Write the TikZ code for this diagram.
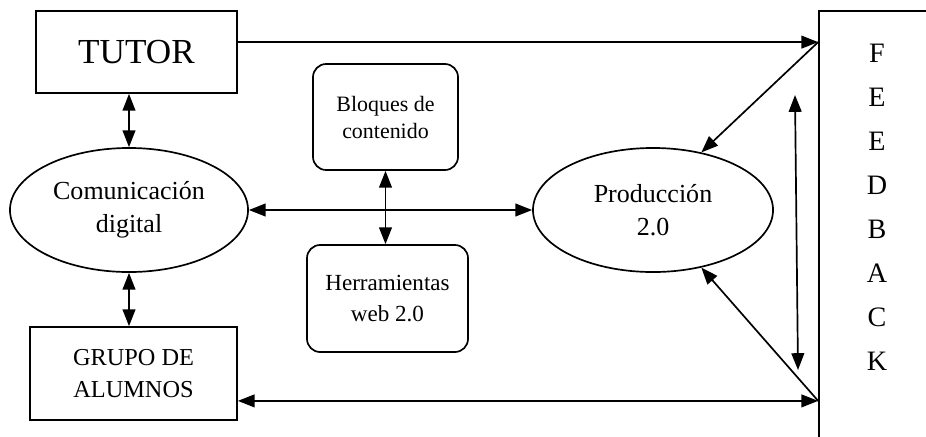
\documentclass[tikz,border=0pt]{standalone}
\usepackage{fontspec}
\setmainfont{Liberation Serif}
\usetikzlibrary{shapes.geometric,arrows.meta}

\tikzset{
  box/.style={draw, line width=1.2pt, inner sep=0pt, align=center},
  rbox/.style={box, rounded corners=0.33cm},
  oval/.style={ellipse, draw, line width=1.2pt, inner sep=0pt, align=center},
  link/.style={line width=1.2pt, -{Triangle[length=4.2mm,width=3.2mm]}},
  dlink/.style={line width=1.2pt, {Triangle[length=4.2mm,width=3.2mm]}-{Triangle[length=4.2mm,width=3.2mm]}},
}

\begin{document}
\begin{tikzpicture}[x=0.025cm,y=-0.025cm]
\useasboundingbox (0,0) rectangle (926,436);
% boxes
\node [box, minimum width=5.025cm, minimum height=2.05cm,
       font=\fontsize{25}{25}\selectfont] (tutor) at (136.5,52) {TUTOR};
\node [oval, minimum width=5.95cm, minimum height=3.1cm,
       font=\fontsize{18.5}{23.5}\selectfont] (com) at (129,210) {Comunicación\\digital};
\node [box, minimum width=5.175cm, minimum height=2.325cm,
       font=\fontsize{17.3}{22.8}\selectfont] (grupo) at (133.5,373.5) {GRUPO DE\\ALUMNOS};
\node [rbox, minimum width=3.625cm, minimum height=2.65cm,
       font=\fontsize{15.6}{19.2}\selectfont] (bloques) at (385.5,117) {Bloques de\\contenido};
\node [rbox, minimum width=4.025cm, minimum height=2.675cm,
       font=\fontsize{16.4}{22}\selectfont] (herr) at (387.5,298.5) {Herramientas\\web 2.0};
\node [oval, minimum width=6cm, minimum height=3.1cm,
       font=\fontsize{18.5}{23.5}\selectfont] (prod) at (653,210) {Producción\\2.0};
% feedback box runs past the page edge
\node [box, minimum width=3.275cm, minimum height=10.85cm] (feed) at (884.5,228) {};
% letters
\foreach \l [count=\i] in {F,E,E,D,B,A,C,K}
  \node [font=\fontsize{20}{20}\selectfont, inner sep=0pt] (fb\i) at (877,9+44*\i) {\l};
% ends on the feedback box
\coordinate (fTop) at ([yshift=-0.8cm]feed.north west);
\coordinate (fBot) at ([yshift=1.125cm]feed.south west);
\coordinate (vTop) at (795,95);
\coordinate (vBot) at (798,370);
% arrows
\draw [dlink] (tutor.south -| com.north) -- (com.north);
\draw [dlink] (com.south) -- (grupo.north -| com.south);
\draw [dlink] (bloques.south) -- (bloques.south |- herr.north);
\draw [dlink] (com.east) -- (prod.west);
\draw [link] (tutor.east |- fTop) -- (fTop);
\draw [dlink] (grupo.east |- fBot) -- (fBot);
\draw [link] (fTop) -- (prod.50);
\draw [link] (fBot) -- (prod.-50);
\draw [dlink] (vTop) -- (vBot);
\end{tikzpicture}
\end{document}
